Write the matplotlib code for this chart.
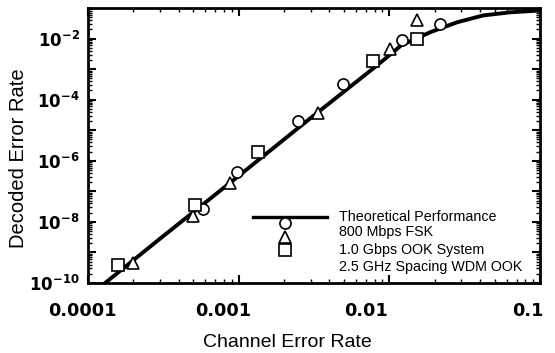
import matplotlib
matplotlib.use('Agg')
import matplotlib.pyplot as plt
import matplotlib.transforms as mtransforms
from matplotlib.ticker import LogLocator, FixedFormatter, FixedLocator, NullFormatter

# theoretical curve
theory_x = [1.2e-4, 3e-4, 1e-3, 3e-3, 8.3e-3, 0.012, 0.0186, 0.0281, 0.0418, 0.063, 0.1]
theory_y = [7.3e-11, 2.8e-9, 3.2e-7, 2.5e-5, 1.33e-3, 6e-3, 0.016, 0.034, 0.057, 0.072, 0.083]

# 800 Mbps FSK (circles)
fsk_x = [5.8e-4, 9.75e-4, 2.47e-3, 4.92e-3, 0.0121, 0.0217]
fsk_y = [2.6e-8, 4.2e-7, 1.97e-5, 3.2e-4, 8.7e-3, 0.031]

# 1.0 Gbps OOK System (triangles)
ook_x = [1.99e-4, 4.98e-4, 8.75e-4, 3.36e-3, 0.0101, 0.0152]
ook_y = [4.5e-10, 1.55e-8, 1.86e-7, 3.6e-5, 4.4e-3, 0.042]

# 2.5 GHz Spacing WDM OOK (squares)
wdm_x = [1.58e-4, 5.13e-4, 1.34e-3, 7.8e-3, 0.0152]
wdm_y = [3.9e-10, 3.5e-8, 1.9e-6, 1.8e-3, 9.4e-3]

xtick_vals = [1e-4, 1e-3, 1e-2, 1e-1]
xtick_labels = ['0.0001', '0.001', '0.01', '0.1']
legend_labels = ['Theoretical Performance', '800 Mbps FSK',
                 '1.0 Gbps OOK System', '2.5 GHz Spacing WDM OOK']

fig = plt.figure(figsize=(5.55, 3.53), dpi=100)
ax = fig.add_axes([0.1586, 0.1983, 0.8144, 0.779])

ax.plot(theory_x, theory_y, color='black', lw=2.8, solid_capstyle='butt')
mk = dict(linestyle='none', markerfacecolor='white', markeredgecolor='black',
          markeredgewidth=1.2, color='black')
ax.plot(fsk_x, fsk_y, marker='o', markersize=8, **mk)
ax.plot(ook_x, ook_y, marker='^', markersize=8.5, **mk)
ax.plot(wdm_x, wdm_y, marker='s', markersize=8, **mk)

ax.set_xscale('log')
ax.set_yscale('log')
ax.set_xlim(1e-4, 1e-1)
ax.set_ylim(1e-10, 1e-1)

# ticks
ax.set_xticks(xtick_vals)
ax.set_xticklabels(xtick_labels)
ax.xaxis.set_minor_locator(LogLocator(base=10, subs=range(2, 10), numticks=20))
ax.xaxis.set_minor_formatter(NullFormatter())

ax.yaxis.set_major_locator(FixedLocator([10.0 ** e for e in range(-10, -1)]))
ylabs = []
for e in range(-10, -1):
    ylabs.append(r'$\mathbf{10^{%d}}$' % e if e % 2 == 0 else '')
ax.yaxis.set_major_formatter(FixedFormatter(ylabs))
ax.yaxis.set_minor_locator(LogLocator(base=10, subs=range(2, 10), numticks=20))
ax.yaxis.set_minor_formatter(NullFormatter())

ax.tick_params(which='both', direction='in', top=True, right=True)
ax.tick_params(which='major', length=6, width=1.5)
ax.tick_params(which='minor', length=3, width=1)
ax.tick_params(axis='x', which='major', labelsize=12.8, pad=14)
ax.tick_params(axis='y', which='major', labelsize=12, pad=6)

# the scanned labels sit a bit left of their ticks
shifts = [-6, -15, -23, -12]
for lab, dx in zip(ax.get_xticklabels(), shifts):
    lab.set_fontweight('bold')
    lab.set_transform(lab.get_transform() +
                      mtransforms.ScaledTranslation(dx / 100, 0, fig.dpi_scale_trans))

for sp in ax.spines.values():
    sp.set_linewidth(2)

ax.set_xlabel('Channel Error Rate', family='Liberation Sans', fontsize=14)
ax.xaxis.set_label_coords(0.44, -0.185)
ax.set_ylabel('Decoded Error Rate', family='Liberation Sans', fontsize=14.5)
ax.yaxis.set_label_coords(-0.132, 0.455)

# hand-made legend
ax.plot([0.365, 0.529], [0.241, 0.241], transform=ax.transAxes, color='black', lw=2.4)
ax.plot([0.436], [0.218], transform=ax.transAxes, marker='o', markersize=8, **mk)
ax.plot([0.436], [0.166], transform=ax.transAxes, marker='^', markersize=8.5, **mk)
ax.plot([0.436], [0.12], transform=ax.transAxes, marker='s', markersize=8, **mk)
for lab, yy in zip(legend_labels, [0.241, 0.187, 0.12, 0.059]):
    ax.text(0.555, yy, lab, transform=ax.transAxes, va='center', ha='left',
            family='Liberation Sans', fontsize=10.3)

fig.savefig('out.png', dpi=100)
